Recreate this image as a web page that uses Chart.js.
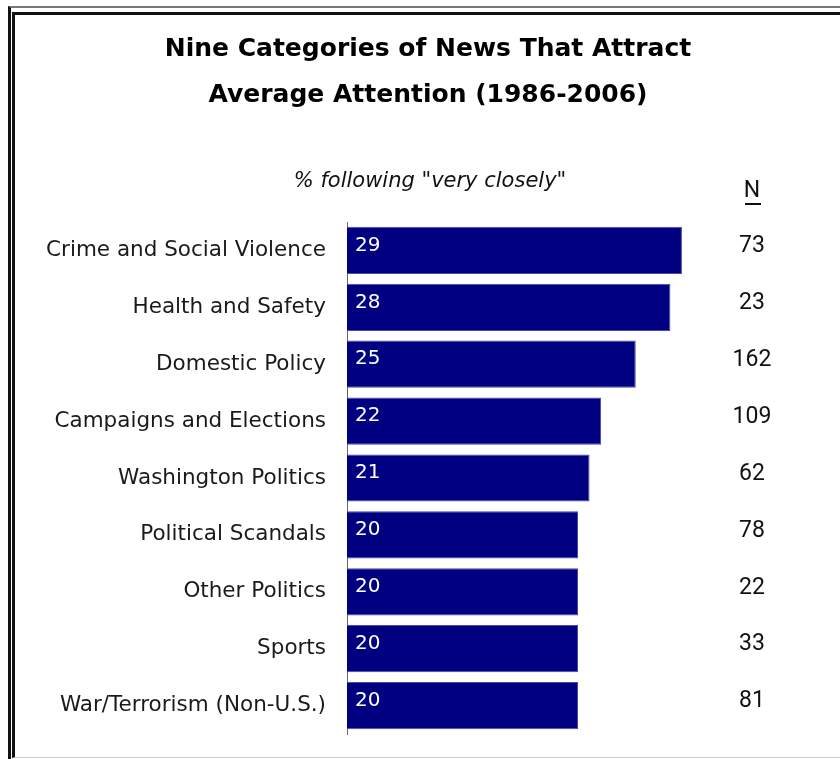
<!DOCTYPE html>
<html>
<head>
<meta charset="utf-8">
<script src="https://cdn.jsdelivr.net/npm/chart.js@4.4.1/dist/chart.umd.min.js"></script>
<style>
  html, body { margin: 0; padding: 0; background: #fff; }
  body { width: 840px; height: 759px; position: relative; overflow: hidden; }
  .frame-outer {
    position: absolute; left: 8px; top: 6px; width: 900px; height: 900px;
    border-left: 3px solid #111; border-top: 2px solid #777;
  }
  .frame-inner {
    position: absolute; left: 12px; top: 12px; width: 900px; height: 742px;
    border-left: 3px solid #111; border-top: 3px solid #111; border-bottom: 1px solid #ccc;
  }
  #chart { position: absolute; left: 0; top: 0; }
</style>
</head>
<body>
<div class="frame-outer"></div>
<div class="frame-inner"></div>
<canvas id="chart" width="840" height="759"></canvas>
<script>
const CATEGORIES = [
  'Crime and Social Violence',
  'Health and Safety',
  'Domestic Policy',
  'Campaigns and Elections',
  'Washington Politics',
  'Political Scandals',
  'Other Politics',
  'Sports',
  'War/Terrorism (Non-U.S.)',
];
const PCT_VERY_CLOSELY = [29, 28, 25, 22, 21, 20, 20, 20, 20];
const N_STORIES        = [73, 23, 162, 109, 62, 78, 22, 33, 81];

const TITLE_LINES = ['Nine Categories of News That Attract', 'Average Attention (1986-2006)'];
const SUBTITLE    = '% following "very closely"';

const SANS = '"DejaVu Sans", sans-serif';

/* titres, en-tête N, valeurs dans les barres et colonne N */
const annotations = {
  id: 'annotations',
  afterDatasetsDraw(chart) {
    const { ctx } = chart;
    const bars = chart.getDatasetMeta(0).data;
    ctx.save();

    ctx.fillStyle = '#000';
    ctx.textAlign = 'center';
    ctx.textBaseline = 'alphabetic';
    ctx.font = 'bold 25px ' + SANS;
    ctx.fillText(TITLE_LINES[0], 428, 56);
    ctx.fillText(TITLE_LINES[1], 428, 102);

    ctx.fillStyle = '#111';
    ctx.font = 'italic 21px ' + SANS;
    ctx.fillText(SUBTITLE, 430, 187);

    ctx.font = '23px Roboto, sans-serif';
    ctx.fillText('N', 752, 197);
    ctx.fillRect(745, 203, 16, 2);

    bars.forEach((bar, i) => {
      ctx.fillStyle = '#111';
      ctx.textAlign = 'center';
      ctx.textBaseline = 'middle';
      ctx.font = '23px Roboto, sans-serif';
      ctx.fillText(String(N_STORIES[i]), 752, bar.y - 4);

      ctx.fillStyle = '#fff';
      ctx.textAlign = 'left';
      ctx.font = '20px ' + SANS;
      ctx.fillText(String(PCT_VERY_CLOSELY[i]), bar.base + 8, bar.y - 5);
    });
    ctx.restore();
  },
};

new Chart(document.getElementById('chart'), {
  type: 'bar',
  data: {
    labels: CATEGORIES,
    datasets: [{
      data:            PCT_VERY_CLOSELY,
      backgroundColor: '#000080',
      borderColor:     '#4a4aa6',
      borderWidth:     1,
      borderSkipped:   'left',
      barPercentage:      0.83,
      categoryPercentage: 1,
    }],
  },
  options: {
    indexAxis:  'y',
    responsive: false,
    animation:  false,
    layout: { padding: { top: 222, bottom: 25, left: 0, right: 31 } },
    plugins: {
      legend:  { display: false },
      tooltip: { enabled: false },
    },
    scales: {
      x: { display: false, min: 0, max: 40 },
      y: {
        afterFit: (s) => { s.width = 347; s.paddingTop = 0; s.paddingBottom = 0; },
        grid:   { display: false, drawTicks: false },
        border: { display: true, color: '#666', width: 1 },
        ticks:  { color: '#1a1a1a', padding: 21, font: { family: SANS, size: 21.5 } },
      },
    },
  },
  plugins: [annotations],
});
</script>
</body>
</html>
